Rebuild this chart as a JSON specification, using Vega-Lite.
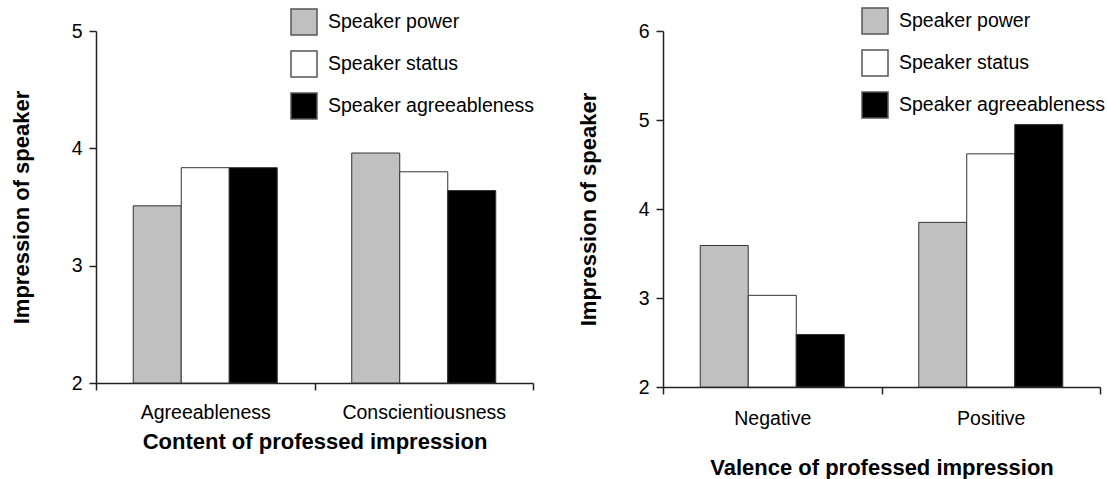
{
  "$schema": "https://vega.github.io/schema/vega-lite/v6.json",
  "padding": {"left": 10, "top": 7, "right": 0, "bottom": 0},
  "background": "white",
  "datasets": {
    "content": [
      {"category": "Agreeableness", "measure": "Speaker power", "value": 3.51},
      {"category": "Agreeableness", "measure": "Speaker status", "value": 3.835},
      {"category": "Agreeableness", "measure": "Speaker agreeableness", "value": 3.835},
      {"category": "Conscientiousness", "measure": "Speaker power", "value": 3.96},
      {"category": "Conscientiousness", "measure": "Speaker status", "value": 3.80},
      {"category": "Conscientiousness", "measure": "Speaker agreeableness", "value": 3.64}
    ],
    "valence": [
      {"category": "Negative", "measure": "Speaker power", "value": 3.59},
      {"category": "Negative", "measure": "Speaker status", "value": 3.03},
      {"category": "Negative", "measure": "Speaker agreeableness", "value": 2.59},
      {"category": "Positive", "measure": "Speaker power", "value": 3.85},
      {"category": "Positive", "measure": "Speaker status", "value": 4.62},
      {"category": "Positive", "measure": "Speaker agreeableness", "value": 4.95}
    ]
  },
  "config": {
    "font": "Liberation Sans",
    "view": {"stroke": null},
    "axis": {
      "labelFont": "Liberation Sans",
      "labelFontSize": 19.5,
      "labelColor": "black",
      "titleFont": "Liberation Sans",
      "titleFontSize": 22,
      "titleFontWeight": "bold",
      "titleColor": "black",
      "domainColor": "#222",
      "domainWidth": 1.5,
      "tickColor": "#222",
      "tickWidth": 1.5,
      "tickSize": 7,
      "grid": false
    },
    "legend": {
      "labelFont": "Liberation Sans",
      "labelFontSize": 19.5,
      "labelColor": "black",
      "labelLimit": 400,
      "symbolType": "square",
      "symbolSize": 676,
      "symbolStrokeColor": "#555",
      "symbolStrokeWidth": 1.5,
      "symbolOpacity": 1,
      "rowPadding": 10,
      "labelOffset": 10
    }
  },
  "resolve": {
    "scale": {"x": "independent", "y": "independent", "color": "independent", "xOffset": "independent"},
    "legend": {"color": "independent"},
    "axis": {"x": "independent", "y": "independent"}
  },
  "spacing": 43,
  "hconcat": [
    {
      "width": 437,
      "height": 352,
      "data": {"name": "content"},
      "mark": {"type": "bar", "stroke": "#333", "strokeWidth": 1},
      "encoding": {
        "x": {
          "field": "category", "type": "nominal",
          "scale": {"paddingInner": 0, "paddingOuter": 0},
          "axis": {"title": "Content of professed impression", "labelAngle": 0, "tickBand": "extent", "labelPadding": 13, "titlePadding": 10}
        },
        "xOffset": {
          "field": "measure", "type": "nominal",
          "sort": ["Speaker power", "Speaker status", "Speaker agreeableness"],
          "scale": {"paddingInner": 0, "paddingOuter": 0.776}
        },
        "y": {
          "field": "value", "type": "quantitative",
          "scale": {"domain": [2, 5], "nice": false, "zero": false},
          "axis": {"title": "Impression of speaker", "values": [2, 3, 4, 5], "labelPadding": 7, "titlePadding": 38}
        },
        "y2": {"datum": 2},
        "color": {
          "field": "measure", "type": "nominal",
          "sort": ["Speaker power", "Speaker status", "Speaker agreeableness"],
          "scale": {"domain": ["Speaker power", "Speaker status", "Speaker agreeableness"], "range": ["#c0c0c0", "#ffffff", "#000000"]},
          "legend": {"title": null, "orient": "none", "legendX": 194, "legendY": -23}
        }
      }
    },
    {
      "width": 437,
      "height": 356,
      "data": {"name": "valence"},
      "mark": {"type": "bar", "stroke": "#333", "strokeWidth": 1},
      "encoding": {
        "x": {
          "field": "category", "type": "nominal",
          "scale": {"paddingInner": 0, "paddingOuter": 0},
          "axis": {"title": "Valence of professed impression", "labelAngle": 0, "tickBand": "extent", "labelPadding": 15, "titlePadding": 30}
        },
        "xOffset": {
          "field": "measure", "type": "nominal",
          "sort": ["Speaker power", "Speaker status", "Speaker agreeableness"],
          "scale": {"paddingInner": 0, "paddingOuter": 0.776}
        },
        "y": {
          "field": "value", "type": "quantitative",
          "scale": {"domain": [2, 6], "nice": false, "zero": false},
          "axis": {"title": "Impression of speaker", "values": [2, 3, 4, 5, 6], "labelPadding": 7, "titlePadding": 38}
        },
        "y2": {"datum": 2},
        "color": {
          "field": "measure", "type": "nominal",
          "sort": ["Speaker power", "Speaker status", "Speaker agreeableness"],
          "scale": {"domain": ["Speaker power", "Speaker status", "Speaker agreeableness"], "range": ["#c0c0c0", "#ffffff", "#000000"]},
          "legend": {"title": null, "orient": "none", "legendX": 198, "legendY": -24}
        }
      }
    }
  ]
}
